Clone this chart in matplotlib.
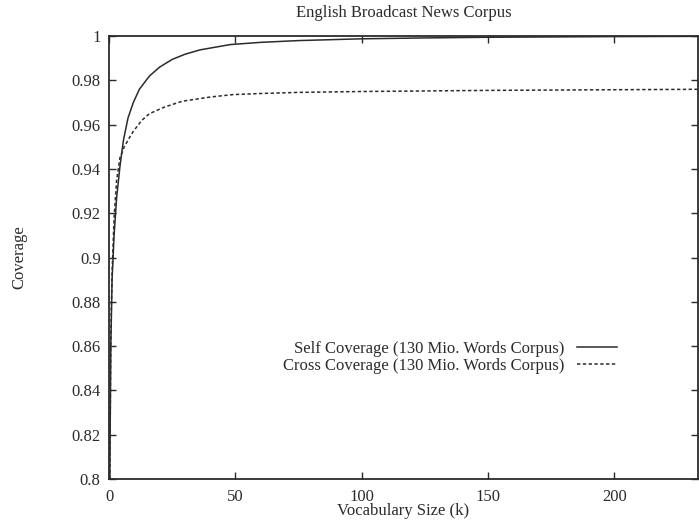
import matplotlib
matplotlib.use("Agg")
import matplotlib.pyplot as plt
from matplotlib.ticker import FuncFormatter

# values
vocab_self = [0.3, 0.7, 1.2, 2, 3, 4.3, 5.7, 7.5, 9.6, 12, 16, 20, 25, 30, 36, 48, 60, 75, 100, 125, 150, 200, 233]
self_cov = [0.800, 0.860, 0.890, 0.910, 0.927, 0.941, 0.953, 0.963, 0.970, 0.976, 0.982, 0.986,
            0.9895, 0.9918, 0.9938, 0.9962, 0.9972, 0.998, 0.9988, 0.9992, 0.9995, 0.9998, 0.9999]

vocab_cross = [0.3, 0.7, 1.2, 2, 3, 4.3, 6, 8, 9.6, 13, 16, 22, 29, 40, 49, 60, 75, 100, 150, 200, 233]
cross_cov = [0.800, 0.865, 0.893, 0.918, 0.935, 0.945, 0.950, 0.954, 0.957, 0.962, 0.965, 0.968,
             0.9706, 0.9725, 0.9736, 0.9741, 0.9746, 0.975, 0.9755, 0.9758, 0.976]

x_ticks = [0, 50, 100, 150, 200]
y_ticks = [0.8, 0.82, 0.84, 0.86, 0.88, 0.9, 0.92, 0.94, 0.96, 0.98, 1.0]

plt.rcParams['font.family'] = ['Liberation Serif', 'DejaVu Serif']
ink = '#2b2b2b'

fig = plt.figure(figsize=(6.99, 5.24), dpi=100)
ax = fig.add_axes([0.156, 0.086, 0.842, 0.845])

ax.plot(vocab_self, self_cov, color=ink, lw=1.1, label='Self Coverage (130 Mio. Words Corpus)')
ax.plot(vocab_cross, cross_cov, color=ink, lw=1.1, linestyle=(0, (2.2, 1.6)),
        label='Cross Coverage (130 Mio. Words Corpus)')

ax.set_xlim(0, 233)
ax.set_ylim(0.8, 1.0)
ax.set_xticks(x_ticks)
ax.set_yticks(y_ticks)
ax.yaxis.set_major_formatter(FuncFormatter(lambda v, p: '%g' % round(v, 2)))
ax.tick_params(direction='in', length=5, width=1, top=True, right=True,
               labelsize=12, colors=ink, pad=6)
ax.tick_params(axis='x', pad=7)
for s in ax.spines.values():
    s.set_linewidth(1.3)
    s.set_color(ink)

ax.set_title('English Broadcast News Corpus', fontsize=12, color=ink, pad=14)
ax.set_xlabel('Vocabulary Size (k)', fontsize=12, color=ink, labelpad=-1)
ax.set_ylabel('Coverage', fontsize=12, color=ink, labelpad=32)

leg = ax.legend(loc='center right', bbox_to_anchor=(0.878, 0.274), frameon=False,
                markerfirst=False, fontsize=12, handlelength=2.4, handletextpad=0.8,
                labelspacing=0.05, borderpad=0)
for t in leg.get_texts():
    t.set_color(ink)
    t.set_ha('right')

fig.savefig('out.png', dpi=100)
